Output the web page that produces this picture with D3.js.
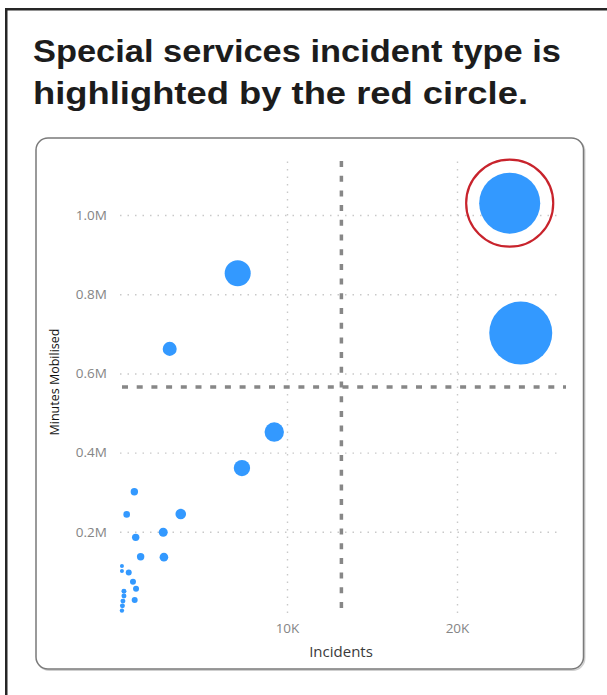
<!DOCTYPE html>
<html>
<head>
<meta charset="utf-8">
<script src="https://cdn.jsdelivr.net/npm/d3@7"></script>
<style>
  html, body { margin: 0; padding: 0; background: #fff; }
  svg { display: block; }
</style>
</head>
<body>
<svg id="chart" width="607" height="695"></svg>
<script>
// Incident types: incidents attended vs. minutes mobilised, bubble area = size measure
const incidents = [23100, 23750, 7100, 3100, 9250, 7350, 3750, 2720, 2760, 1020, 570, 1100, 1390, 290, 290, 690, 940, 1120, 1040, 410, 410, 350, 320, 290];
const minutesMobilised = [1030000, 702000, 853000, 662000, 452000, 361000, 245000, 199000, 136000, 301000, 244000, 186000, 137000, 114000, 101000, 97000, 74000, 56000, 28000, 50000, 38000, 25000, 13000, 1000];
const bubbleSize = [9300, 9900, 1690, 490, 940, 670, 280, 200, 185, 137, 109, 137, 137, 40, 40, 90, 90, 90, 90, 62, 62, 62, 62, 48];
const highlightedIndex = 0; // Special services

const xTicks = [10000, 20000];
const xTickLabels = ["10K", "20K"];
const yTicks = [200000, 400000, 600000, 800000, 1000000];
const yTickLabels = ["0.2M", "0.4M", "0.6M", "0.8M", "1.0M"];

// Constant reference lines splitting the plot into quadrants
const refIncidents = 13200;
const refMinutes = 566000;

const titleLines = ["Special services incident type is", "highlighted by the red circle."];
const xTitle = "Incidents";
const yTitle = "Minutes Mobilised";

const svg = d3.select("#chart");
const uiFont = "'Open Sans', 'Noto Sans', sans-serif";

// Outer frame
svg.append("rect")
  .attr("x", 6.25).attr("y", 9.25)
  .attr("width", 700).attr("height", 800)
  .attr("fill", "none")
  .attr("stroke", "#262626")
  .attr("stroke-width", 2.5);

// Title
const titleWidths = [528, 495];
svg.append("g").selectAll("text")
  .data(titleLines)
  .join("text")
  .attr("x", 33)
  .attr("y", (d, i) => 62 + i * 42)
  .attr("textLength", (d, i) => titleWidths[i])
  .attr("lengthAdjust", "spacingAndGlyphs")
  .attr("font-family", "'Liberation Sans', Arial, sans-serif")
  .attr("font-weight", "bold")
  .attr("font-size", 32)
  .attr("fill", "#1c1c1c")
  .text(d => d);

// Visual card
svg.append("rect")
  .attr("x", 37.2).attr("y", 139.2)
  .attr("width", 547.5).attr("height", 531)
  .attr("rx", 12)
  .attr("fill", "none")
  .attr("stroke", "#cfcfcf")
  .attr("stroke-width", 1.5);
svg.append("rect")
  .attr("x", 36).attr("y", 138)
  .attr("width", 547.5).attr("height", 531)
  .attr("rx", 12)
  .attr("fill", "#fff")
  .attr("stroke", "#7a7a7a")
  .attr("stroke-width", 1.5);

// Scales
const plotLeft = 120, plotRight = 562, plotTop = 160, plotBottom = 613;
const x = d3.scaleLinear().domain([0, 26200]).range([117, 562.4]);
const y = d3.scaleLinear().domain([-5000, 1140000]).range([613, 159.6]);
const r = d3.scaleSqrt().domain([0, d3.max(bubbleSize)]).range([0, 31.5]);

// Y axis with dotted gridlines
const yAxis = svg.append("g")
  .attr("transform", `translate(${plotLeft},0)`)
  .call(d3.axisLeft(y)
    .tickValues(yTicks)
    .tickFormat((d, i) => yTickLabels[i])
    .tickSize(-(plotRight - plotLeft))
    .tickPadding(13));
yAxis.select(".domain").remove();
yAxis.selectAll(".tick line")
  .attr("stroke", "#c9c9c9")
  .attr("stroke-width", 1.4)
  .attr("stroke-dasharray", "1.5,6");
yAxis.selectAll(".tick text")
  .attr("font-family", uiFont)
  .attr("font-size", 13.5)
  .attr("fill", "#858585");

// X axis with dotted gridlines
const xAxis = svg.append("g")
  .attr("transform", `translate(0,${plotBottom})`)
  .call(d3.axisBottom(x)
    .tickValues(xTicks)
    .tickFormat((d, i) => xTickLabels[i])
    .tickSize(-(plotBottom - plotTop))
    .tickPadding(10));
xAxis.select(".domain").remove();
xAxis.selectAll(".tick line")
  .attr("stroke", "#c9c9c9")
  .attr("stroke-width", 1.4)
  .attr("stroke-dasharray", "1.5,6");
xAxis.selectAll(".tick text")
  .attr("font-family", uiFont)
  .attr("font-size", 13.5)
  .attr("fill", "#858585");

// Axis titles
svg.append("text")
  .attr("x", 341).attr("y", 657)
  .attr("text-anchor", "middle")
  .attr("font-family", uiFont)
  .attr("font-size", 15)
  .attr("fill", "#3a3a3a")
  .text(xTitle);
svg.append("text")
  .attr("transform", "translate(54,382) rotate(-90)")
  .attr("text-anchor", "middle")
  .attr("dominant-baseline", "central")
  .attr("font-family", uiFont)
  .attr("font-size", 12.5)
  .attr("fill", "#111")
  .text(yTitle);

// Reference lines
const refStyle = sel => sel
  .attr("stroke", "#878787")
  .attr("stroke-width", 3.5)
  .attr("stroke-dasharray", "6,8.7");
svg.append("line")
  .attr("x1", x(refIncidents)).attr("x2", x(refIncidents))
  .attr("y1", 161).attr("y2", 612)
  .call(refStyle);
svg.append("line")
  .attr("x1", 122).attr("x2", 566)
  .attr("y1", y(refMinutes)).attr("y2", y(refMinutes))
  .call(refStyle);

// Bubbles, largest drawn first so smaller ones stay visible
const points = incidents.map((d, i) => ({
  incidents: d,
  minutes: minutesMobilised[i],
  size: bubbleSize[i],
  index: i
})).sort((a, b) => b.size - a.size);

svg.append("g").selectAll("circle")
  .data(points)
  .join("circle")
  .attr("cx", d => x(d.incidents))
  .attr("cy", d => y(d.minutes))
  .attr("r", d => r(d.size))
  .attr("fill", "#3399ff");

// Highlight ring
const hl = points.find(d => d.index === highlightedIndex);
svg.append("circle")
  .attr("cx", x(hl.incidents))
  .attr("cy", y(hl.minutes))
  .attr("r", r(hl.size) + 13)
  .attr("fill", "none")
  .attr("stroke", "#c8232c")
  .attr("stroke-width", 2.2);
</script>
</body>
</html>
